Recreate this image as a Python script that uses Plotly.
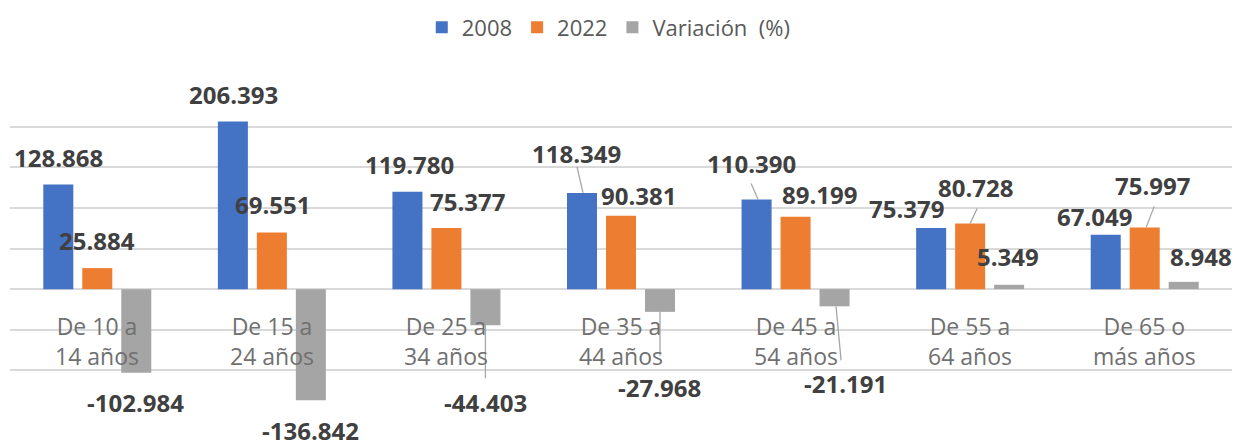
import plotly.graph_objects as go

categories = ["De 10 a<br>14 años", "De 15 a<br>24 años", "De 25 a<br>34 años", "De 35 a<br>44 años",
              "De 45 a<br>54 años", "De 55 a<br>64 años", "De 65 o<br>más años"]
series_names = ["2008", "2022", "Variación\u00a0 (%)"]
values_2008 = [128.868, 206.393, 119.780, 118.349, 110.390, 75.379, 67.049]
values_2022 = [25.884, 69.551, 75.377, 90.381, 89.199, 80.728, 75.997]
values_var = [-102.984, -136.842, -44.403, -27.968, -21.191, 5.349, 8.948]
grid_values = [-150, -100, -50, 0, 50, 100, 150, 200, 250]
colors = ["#4472C4", "#ED7D31", "#A5A5A5"]

series = [values_2008, values_2022, values_var]

# label placement (pixel shifts from bar end: dx right, dy down)
label_shift = [
    [(0.5, -27), (0.4, -27), (1.8, -27), (-6, -39), (-5, -36), (-25, -19), (-11, -18)],
    [(0, -28), (0.4, -28.5), (21, -26), (17, -20), (24, -22), (5, -36), (8, -42)],
    [(-0.5, 30), (-0.6, 30), (0, 77), (0, 76), (11, 77), (-1, -28), (17, -25)],
]
# leader lines: (series index, category index, x0, y0, x1, y1) pixels, y up
leaders = [
    (2, 2, 0, 0, 0, -53),
    (0, 3, 1, 0, -5, 26),
    (2, 3, 0, 0, 0, -44),
    (0, 4, 1.5, 0, -5.5, 16),
    (2, 4, 1.5, 0, 6.5, -54),
    (1, 5, 0, 0, 7, 15),
    (1, 6, 1.5, 0, 9.5, 21),
]

bargap = 0.33
bargroupgap = 0.23
slot = (1 - bargap) / 3
xs = list(range(len(categories)))

fig = go.Figure()
for i, (name, vals) in enumerate(zip(series_names, series)):
    fig.add_trace(go.Bar(x=xs, y=vals, name=name, marker=dict(color=colors[i], line=dict(width=0)),
                         hoverinfo="skip"))

annotations = []
for i, vals in enumerate(series):
    for k, v in enumerate(vals):
        dx, dy = label_shift[i][k]
        annotations.append(dict(
            x=k + (i - 1) * slot, y=v, xref="x", yref="y",
            text=f"{v:.3f}", showarrow=False, xanchor="center", yanchor="middle",
            xshift=dx, yshift=-dy,
            font=dict(family="Open Sans", size=24, color="#404040", weight="bold"),
        ))
for k, c in enumerate(categories):
    annotations.append(dict(
        x=k, y=0, xref="x", yref="y", text=c, showarrow=False,
        xanchor="center", yanchor="middle", yshift=-52,
        font=dict(family="Open Sans", size=23, color="#707070"),
    ))

shapes = []
for (i, k, x0, y0, x1, y1) in leaders:
    shapes.append(dict(
        type="line", xref="x", yref="y", xsizemode="pixel", ysizemode="pixel",
        xanchor=k + (i - 1) * slot, yanchor=series[i][k],
        x0=x0, y0=y0, x1=x1, y1=y1,
        line=dict(color="#A6A6A6", width=1.3),
    ))

fig.update_layout(
    width=1236, height=446,
    margin=dict(l=10, r=4, t=86, b=35, autoexpand=False),
    paper_bgcolor="white", plot_bgcolor="white",
    barmode="group", bargap=bargap, bargroupgap=bargroupgap,
    showlegend=True,
    legend=dict(orientation="h", x=0.49, xanchor="center", y=1.18, yanchor="middle",
                font=dict(family="Open Sans", size=22, color="#595959"),
                itemclick=False, itemdoubleclick=False),
    xaxis=dict(range=[-0.5, 6.5], showticklabels=False, showgrid=False, zeroline=False,
               showline=False, ticks=""),
    yaxis=dict(range=[-150, 250], tickmode="array", tickvals=grid_values, showticklabels=False,
               showgrid=True, gridcolor="#D9D9D9", gridwidth=2, zeroline=True,
               zerolinecolor="#D9D9D9", zerolinewidth=2, showline=False, ticks=""),
    annotations=annotations,
    shapes=shapes,
    hovermode=False,
)

fig.write_html("out.html", config={"displayModeBar": False},
               post_script="document.body.style.margin='0';document.body.style.overflow='hidden';")
